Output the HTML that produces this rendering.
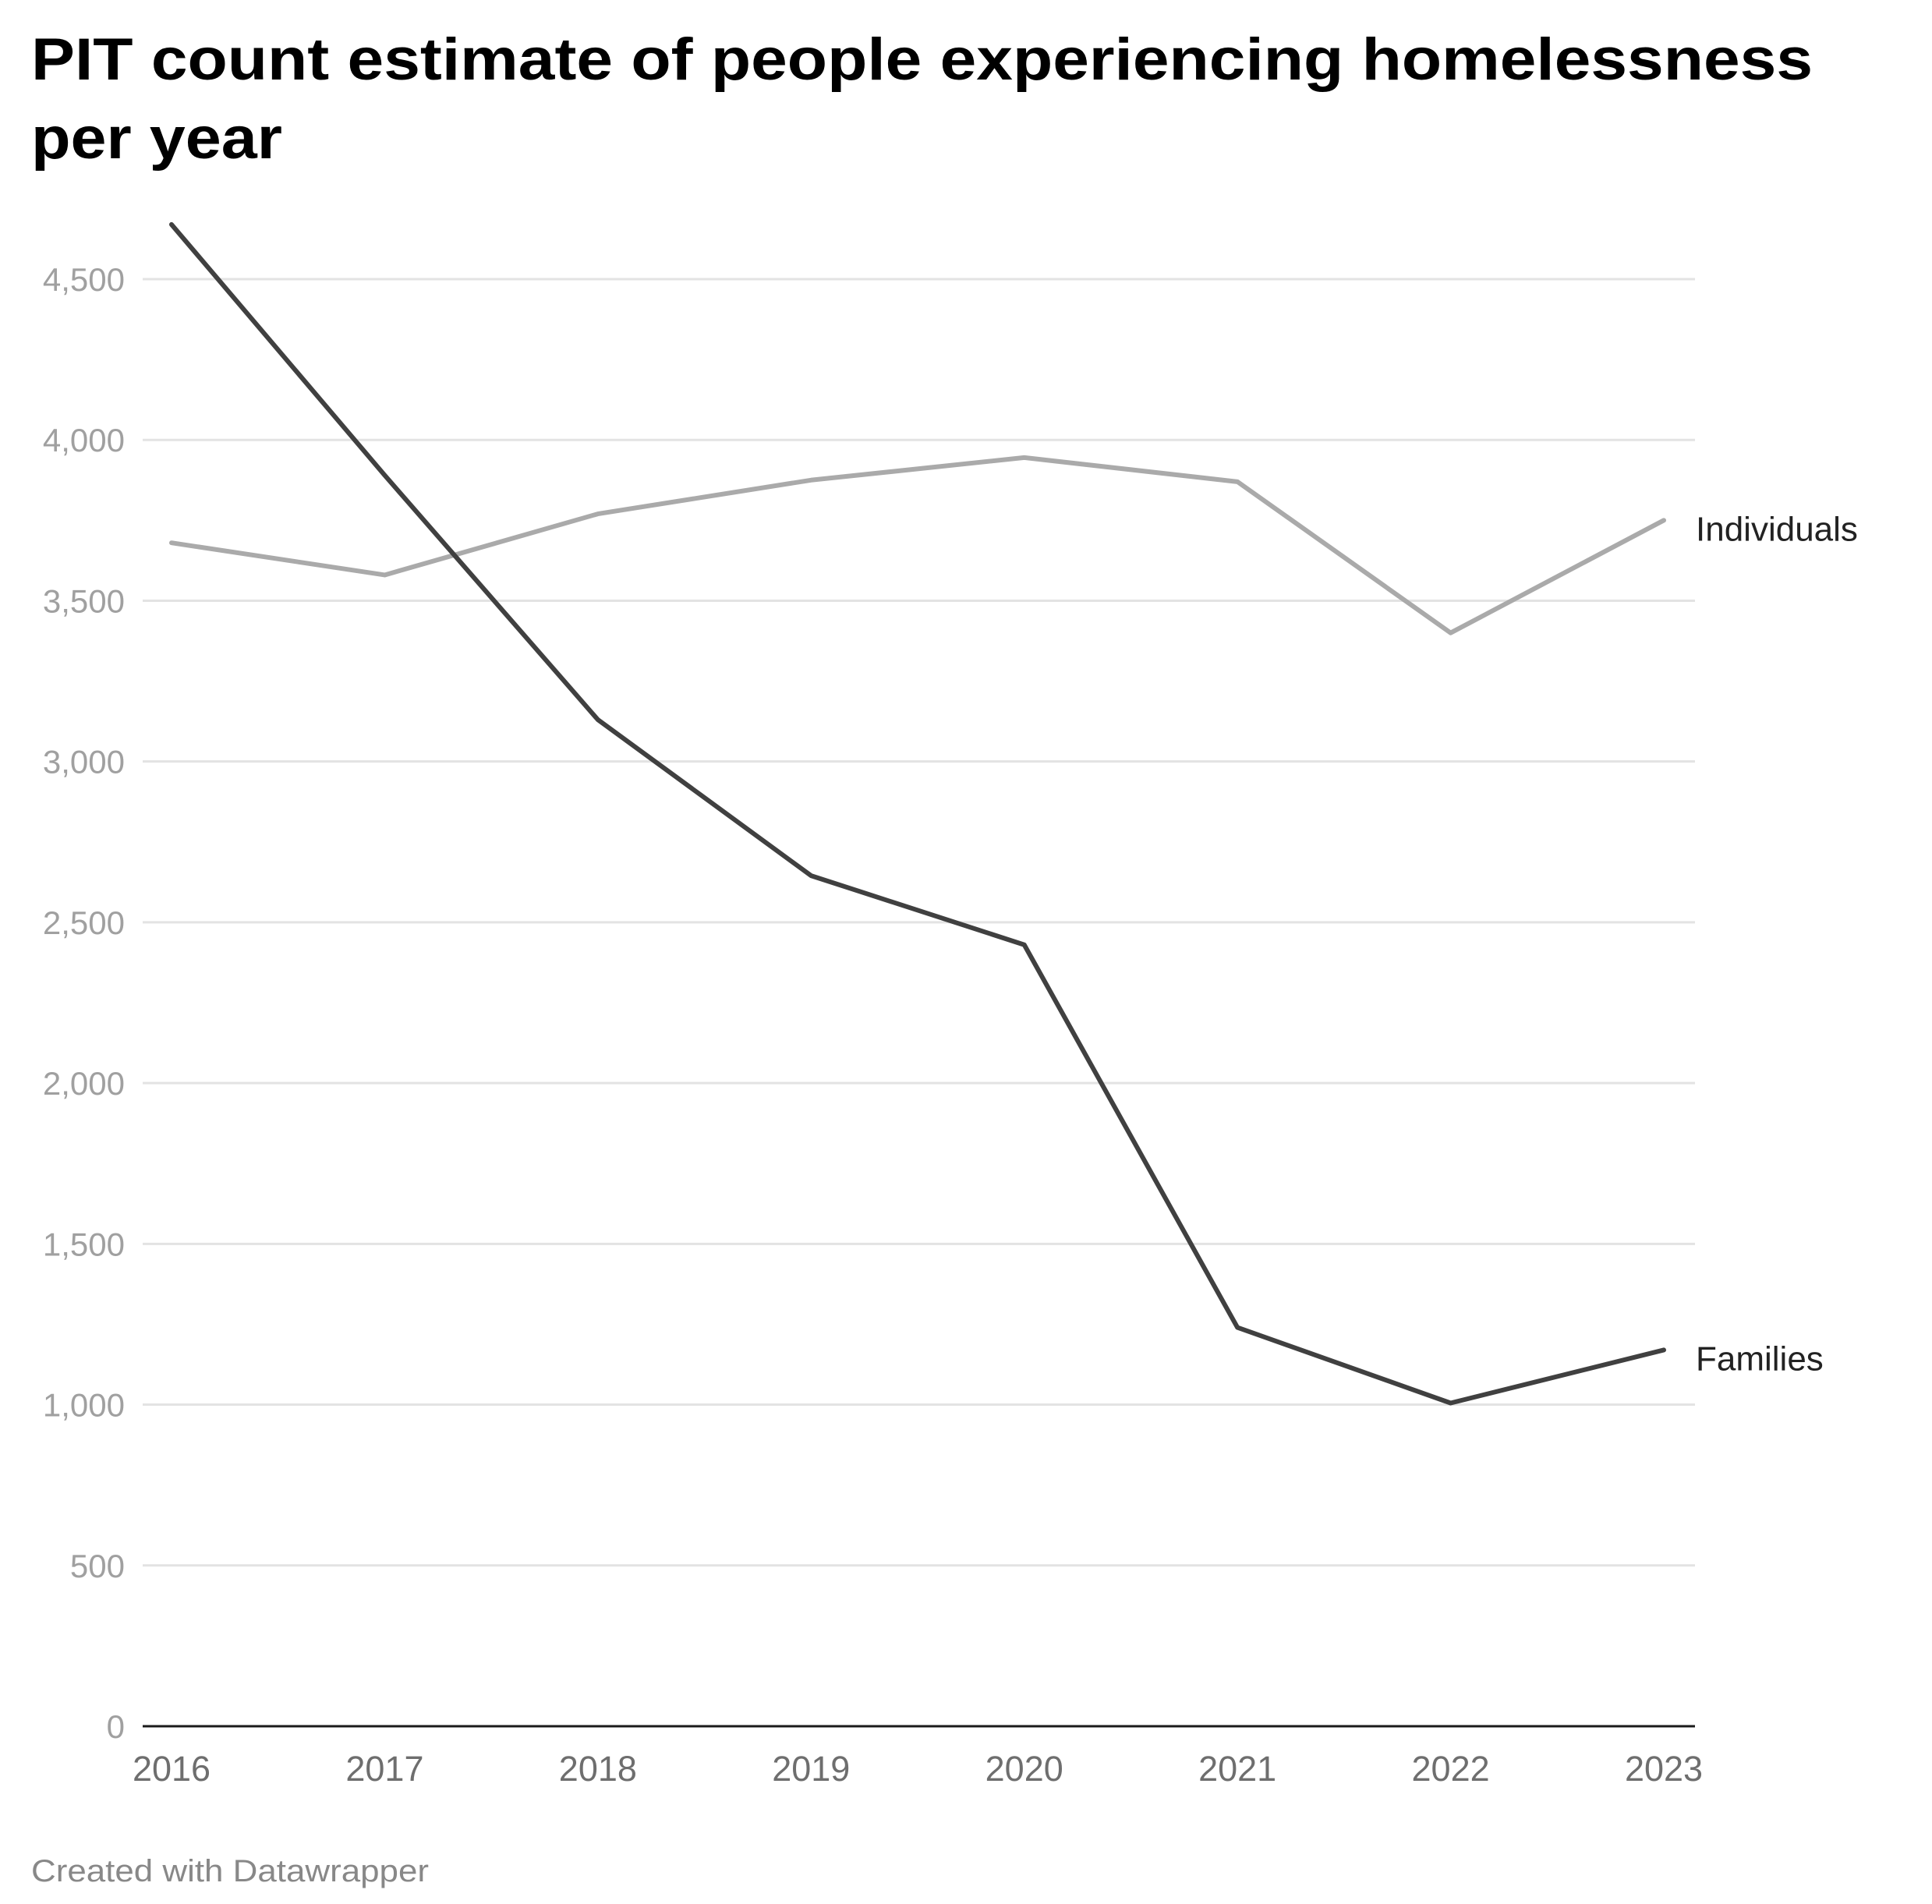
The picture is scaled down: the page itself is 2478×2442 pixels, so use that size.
<!DOCTYPE html>
<html><head><meta charset="utf-8"><style>
html,body{margin:0;padding:0;background:#fff;}
svg{display:block;}
text{font-family:"Liberation Sans",sans-serif;}
</style></head><body>
<svg width="2478" height="2442" viewBox="0 0 2478 2442" xmlns="http://www.w3.org/2000/svg">
<text x="40" y="102" font-size="76" font-weight="bold" fill="#000" textLength="2285" lengthAdjust="spacingAndGlyphs">PIT count estimate of people experiencing homelessness</text>
<text x="40" y="203" font-size="76" font-weight="bold" fill="#000" textLength="322" lengthAdjust="spacingAndGlyphs">per year</text>
<g id="grid"></g><g id="lines"></g><g id="labels"></g>
<text x="40" y="2413" font-size="40" fill="#888" textLength="510" lengthAdjust="spacingAndGlyphs">Created with Datawrapper</text>
</svg>
<script>
const years=["2016","2017","2018","2019","2020","2021","2022","2023"];
const families=[4670,3890,3130,2645,2430,1240,1005,1170];
const individuals=[3680,3580,3770,3875,3945,3870,3400,3750];
const yTicks=[0,500,1000,1500,2000,2500,3000,3500,4000,4500];
const yTickLabels=["0","500","1,000","1,500","2,000","2,500","3,000","3,500","4,000","4,500"];
const NS="http://www.w3.org/2000/svg";
const x0=220,x1=2134,yBase=2214,yTop=358,vTop=4500,axL=183,axR=2174;
function xs(i){return x0+(x1-x0)*i/(years.length-1);}
function ys(v){return yBase-(yBase-yTop)*v/vTop;}
function mk(t,a,p){const e=document.createElementNS(NS,t);for(const k in a)e.setAttribute(k,a[k]);p.appendChild(e);return e;}
const grid=document.getElementById('grid'),lines=document.getElementById('lines'),labels=document.getElementById('labels');
yTicks.forEach((v,i)=>{
 if(v>0){const g=mk('line',{x1:axL,x2:axR,y1:ys(v),y2:ys(v),stroke:'#e3e3e3','stroke-width':3},grid);
 
 }
 const t=mk('text',{x:160,y:ys(v)+15,'text-anchor':'end','font-size':42,fill:'#a0a0a0'},labels);
 t.textContent=yTickLabels[i];
 
 
});
const ax=mk('line',{x1:axL,x2:axR,y1:yBase,y2:yBase,stroke:'#1a1a1a','stroke-width':3},grid);


years.forEach((y,i)=>{
 const t=mk('text',{x:xs(i),y:yBase+70,'text-anchor':'middle','font-size':45,fill:'#6e6e6e'},labels);
 t.textContent=y;
 
 
});
function series(vals,color,name,label){
 const d=vals.map((v,i)=>(i?'L':'M')+xs(i)+','+ys(v)).join(' ');
 const p=mk('path',{d:d,fill:'none',stroke:color,'stroke-width':6,'stroke-linejoin':'round','stroke-linecap':'round'},lines);
 
 
 const t=mk('text',{x:2175,y:ys(vals[vals.length-1])+26,'font-size':44,fill:'#222'},labels);
 t.textContent=label;
 
 
}
series(individuals,'#aaaaaa','individuals-line','Individuals');
series(families,'#404040','families-line','Families');
</script>
</body></html>
